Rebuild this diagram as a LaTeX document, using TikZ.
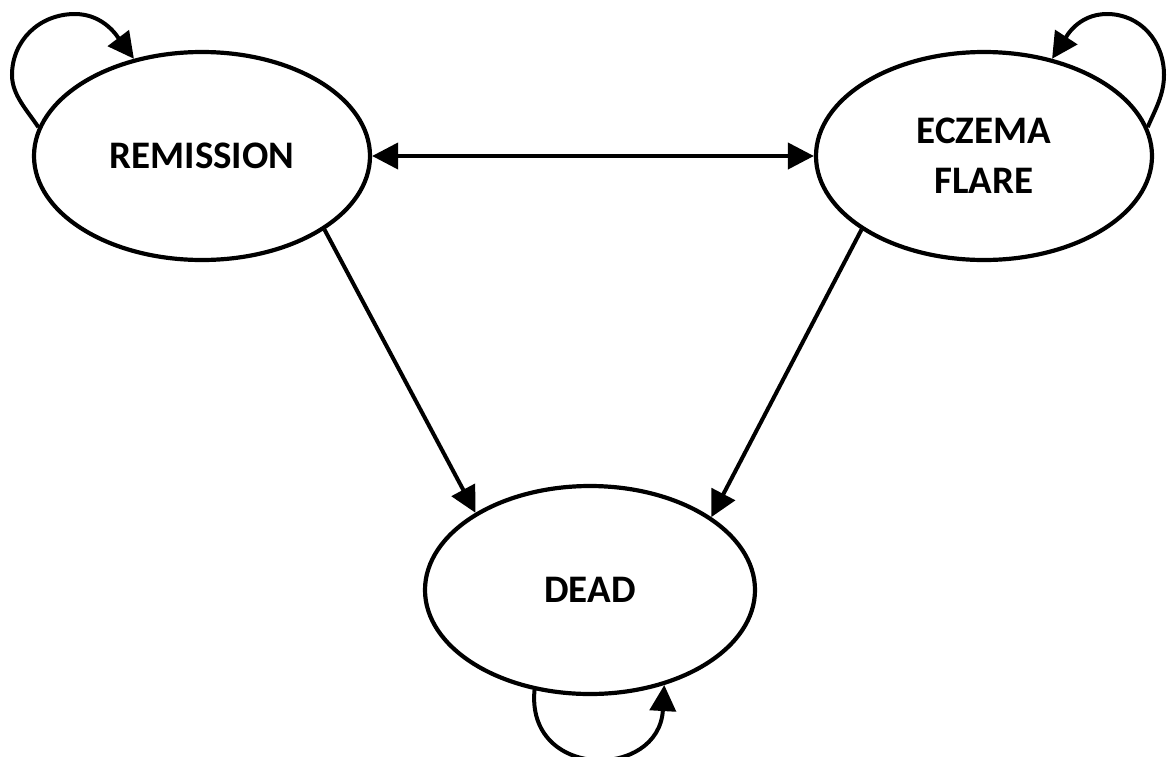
\documentclass[tikz,border=0pt]{standalone}
\usepackage{fontspec}
\setmainfont{Carlito}
\usetikzlibrary{arrows.meta,shapes.geometric}
\begin{document}
\begin{tikzpicture}[x=1pt,y=-1pt,
  state/.style={ellipse, draw, line width=4.2pt, minimum width=336pt, minimum height=208pt, inner sep=0pt,
    font=\fontsize{39}{50}\selectfont\bfseries, align=center},
  arr/.style={line width=4pt, -{Triangle[length=26pt,width=26pt]}},
  darr/.style={line width=4pt, {Triangle[length=26pt,width=26pt]}-{Triangle[length=26pt,width=26pt]}},
]
\useasboundingbox[fill=white] (0,0) rectangle (1168,756);
\node[state] (rem) at (202,156) {REMISSION};
\node[state] (ecz) at (984,156) {ECZEMA\\FLARE};
\node[state, minimum width=330pt] (dead) at (590,590) {DEAD};

\draw[darr] (rem.east) -- (ecz.west);
\draw[arr] (rem.-31.7) -- (dead.146);
\draw[arr] (ecz.211) -- (dead.31);

% self loops
\coordinate (remL) at (12,75);
\coordinate (remT) at (75,14);
\coordinate (eczR) at (1164,75);
\coordinate (eczT) at (1107,14);
\draw[arr] (rem.170) .. controls (27,110) and (12,95) .. (remL)
  .. controls (12,41) and (39,14) .. (remT)
  .. controls (105,14) and (119,39) .. (rem.125);
\draw[arr] (ecz.10) .. controls (1155,110) and (1164,95) .. (eczR)
  .. controls (1164,41) and (1140,14) .. (eczT)
  .. controls (1077,14) and (1065,39) .. (ecz.55);
\draw[arr] (dead.-119) .. controls (526,780) and (659,780) .. (dead.-52);
\end{tikzpicture}
\end{document}
